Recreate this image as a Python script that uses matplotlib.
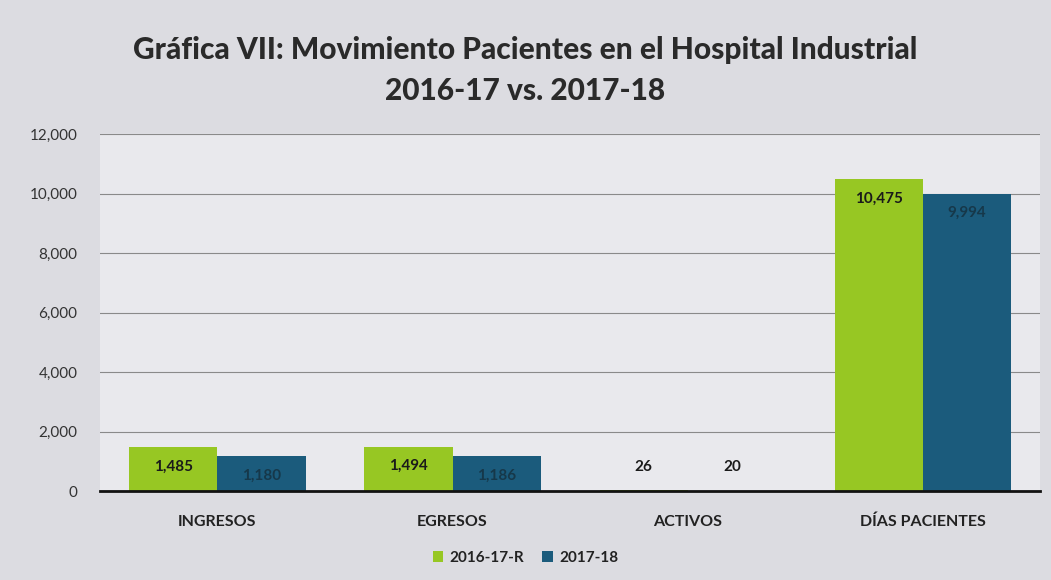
import matplotlib
matplotlib.use("Agg")
import matplotlib.pyplot as plt
import numpy as np

categories = ["INGRESOS", "EGRESOS", "ACTIVOS", "DÍAS PACIENTES"]
series_names = ["2016-17-R", "2017-18"]
values_2016 = [1485, 1494, 26, 10475]
values_2017 = [1180, 1186, 20, 9994]
yticks = [0, 2000, 4000, 6000, 8000, 10000, 12000]

green = "#97c723"
blue = "#1b5b7c"

plt.rcParams['font.family'] = ['Lato', 'DejaVu Sans']

fig = plt.figure(figsize=(10.51, 5.80), dpi=100, facecolor="#dcdce1")
ax = fig.add_axes([0.095, 0.153, 0.895, 0.616])
ax.set_facecolor("#e9e9ed")

x = np.arange(len(categories))
w = 0.375
b1 = ax.bar(x - w/2, values_2016, w, color=green, label=series_names[0], zorder=3)
b2 = ax.bar(x + w/2, values_2017, w, color=blue, label=series_names[1], zorder=3)

ax.set_xlim(-0.5, 3.5)
ax.set_ylim(0, 12000)
ax.set_yticks(yticks)
ax.set_yticklabels([f"{v:,}" for v in yticks], fontsize=11, color="#333333")
ax.set_xticks(x)
ax.set_xticklabels(categories, fontsize=11.5, fontweight="bold", color="#222222")
ax.tick_params(axis="y", length=0, pad=16)
ax.tick_params(axis="x", length=0, pad=17)
ax.grid(axis="y", color="#8a8a8a", linewidth=0.8, zorder=0)
for s in ["top", "right", "left"]:
    ax.spines[s].set_visible(False)
ax.spines["bottom"].set_color("#111111")
ax.spines["bottom"].set_linewidth(2)
ax.spines["bottom"].set_zorder(4)

for bars, vals, tcol in [(b1, values_2016, "#1a1a1a"), (b2, values_2017, "#16384a")]:
    for rect, v in zip(bars, vals):
        cx = rect.get_x() + rect.get_width() / 2
        if v > 500:
            ax.text(cx, v - 650, f"{v:,}", ha="center", va="center",
                    fontsize=11, fontweight="bold", color=tcol, zorder=5)
        else:
            ax.text(cx, 800, f"{v:,}", ha="center", va="center",
                    fontsize=11, fontweight="bold", color="#1a1a1a", zorder=5)

fig.text(0.5, 0.913, "Gráfica VII: Movimiento Pacientes en el Hospital Industrial",
         ha="center", va="center", fontsize=21.5, fontweight="black", color="#2a2a2a")
fig.text(0.5, 0.843, "2016-17 vs. 2017-18", ha="center", va="center",
         fontsize=21.5, fontweight="black", color="#2a2a2a")

leg = fig.legend(handles=[b1, b2], labels=series_names, loc="center",
                 bbox_to_anchor=(0.5, 0.038), ncol=2, frameon=False,
                 handlelength=0.7, handleheight=0.7, handletextpad=0.4,
                 columnspacing=1.2, prop={"weight": "bold", "size": 11})
for t in leg.get_texts():
    t.set_color("#222222")

fig.savefig("out.png", dpi=100, facecolor=fig.get_facecolor())
